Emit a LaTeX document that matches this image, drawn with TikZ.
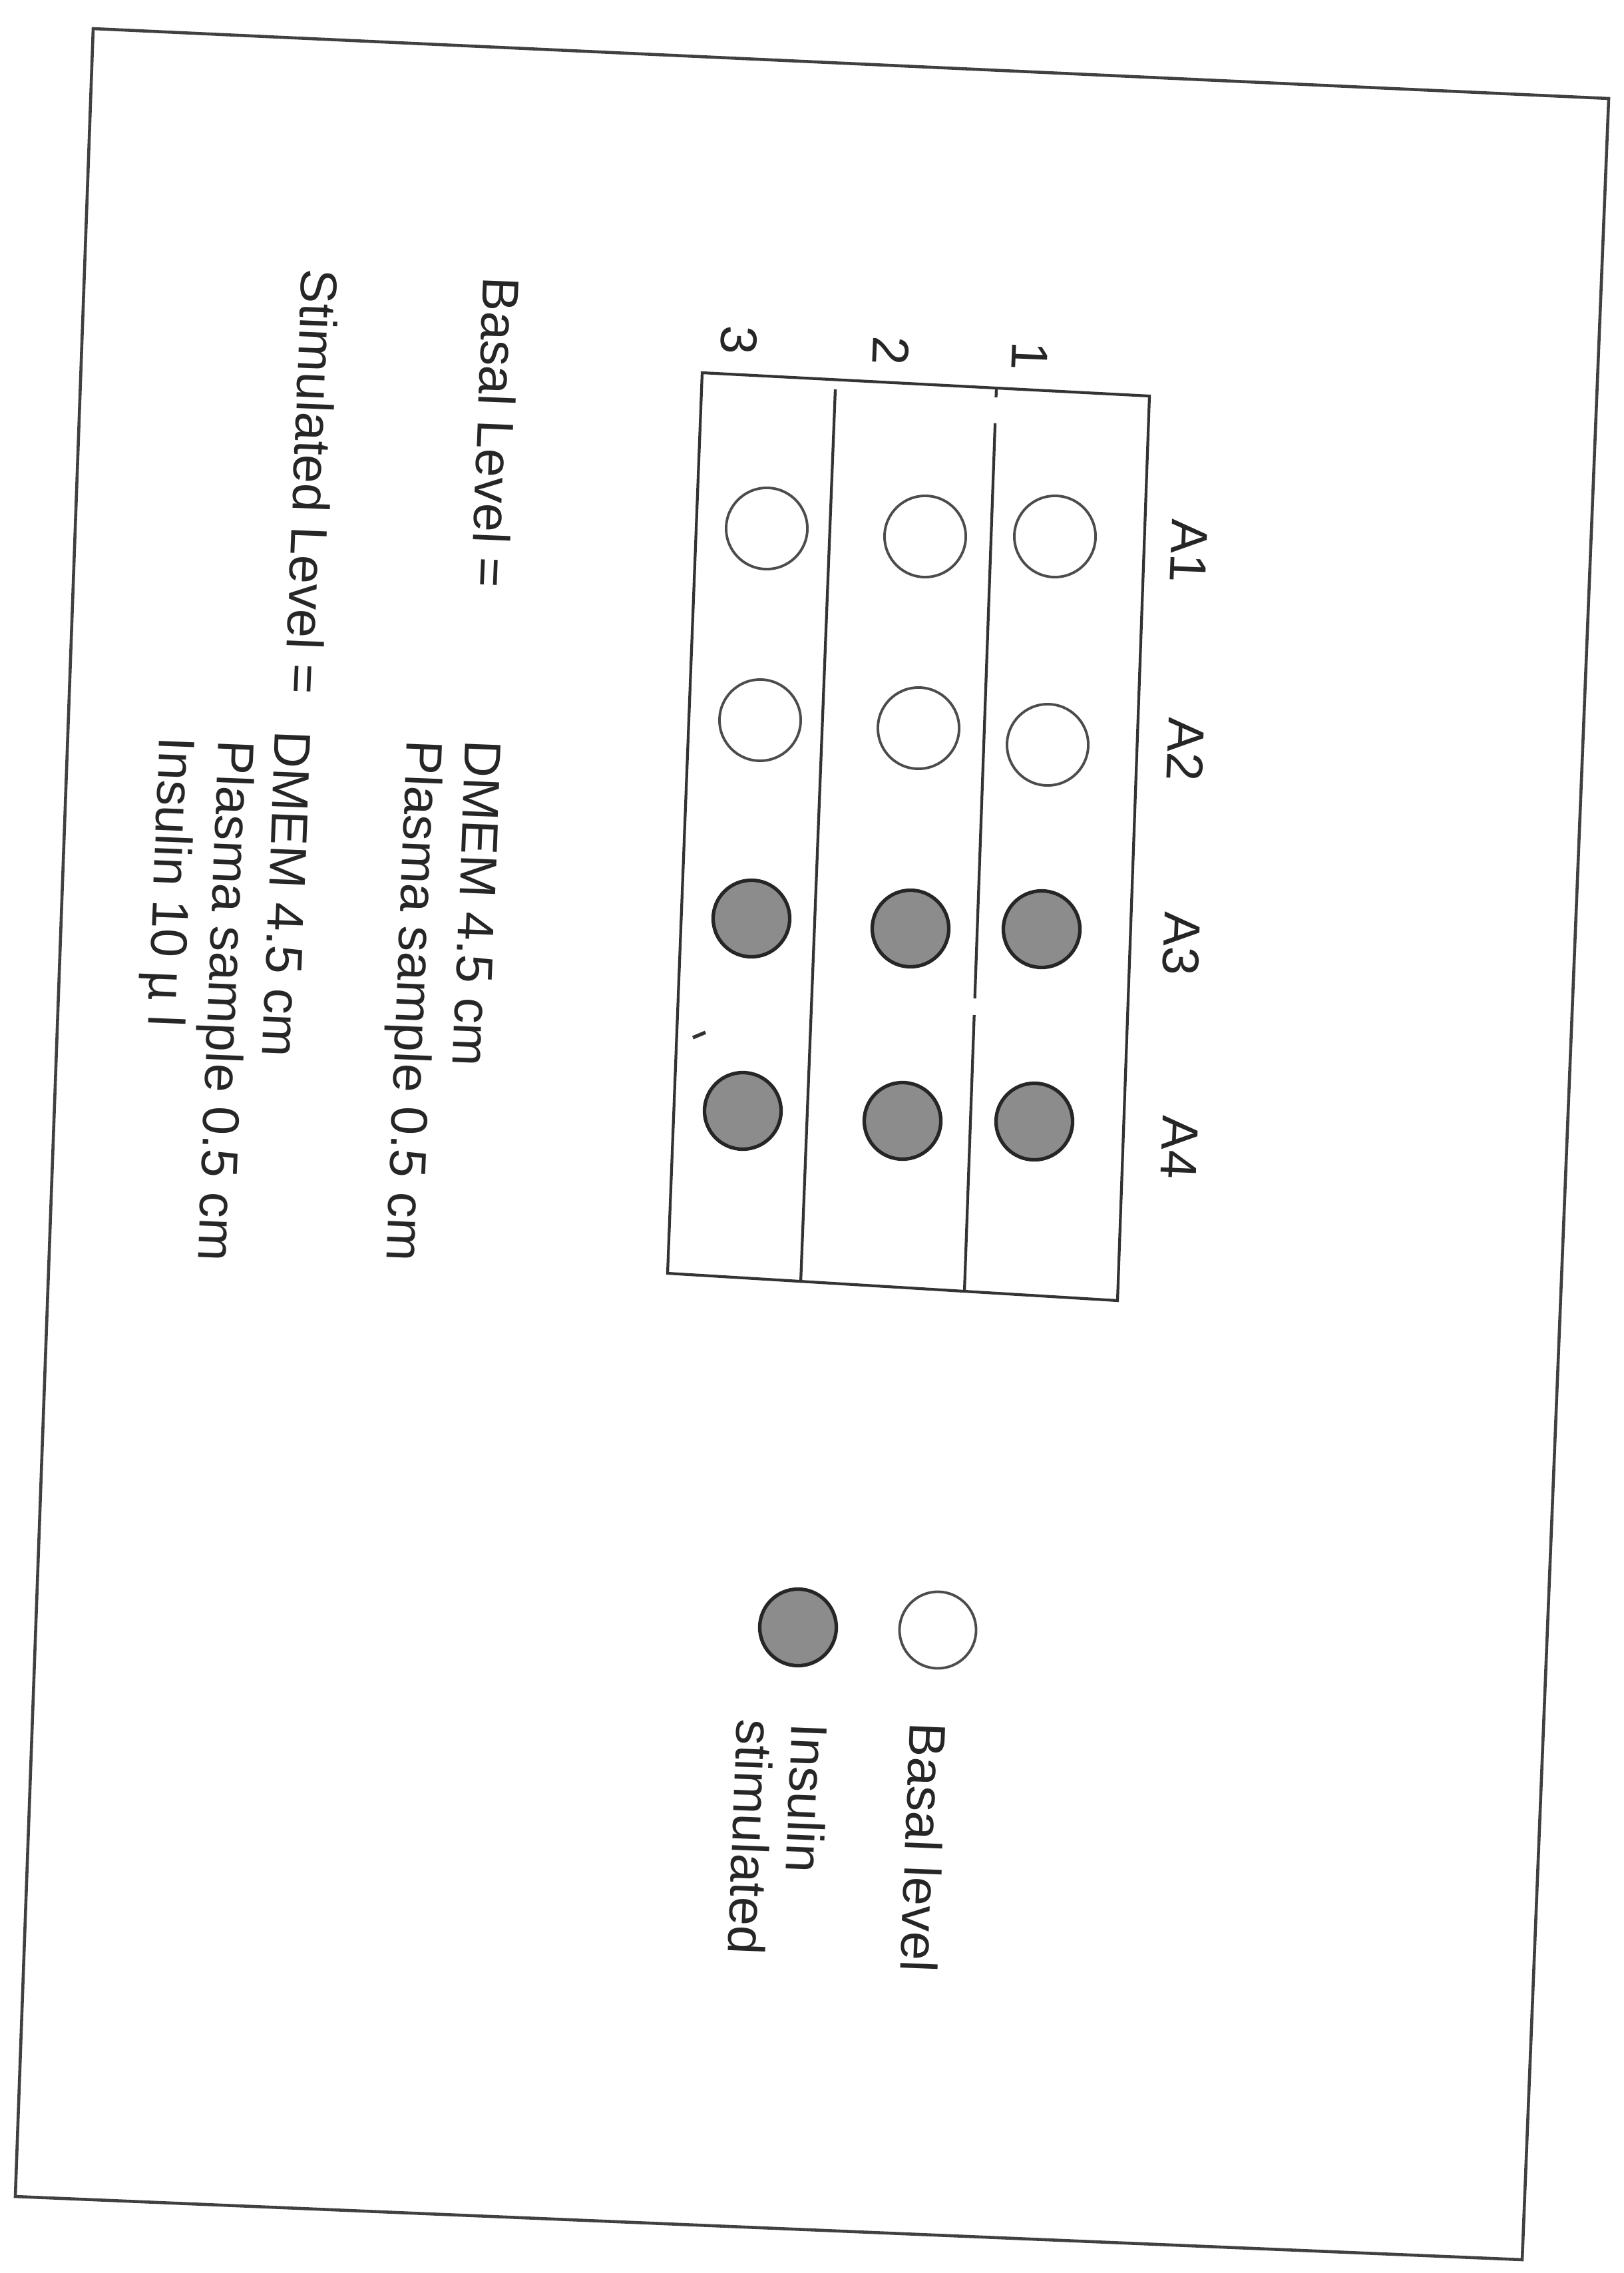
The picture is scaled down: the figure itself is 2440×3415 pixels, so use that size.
\documentclass[tikz,border=0pt]{standalone}
\usepackage{fontspec}
\setmainfont{Liberation Sans}

\begin{document}
\begin{tikzpicture}[x=0.01cm, y=-0.01cm,
  txt/.style={rotate=-92.3, anchor=base west, inner sep=0pt, font=\fontsize{22}{26}\selectfont, text=black!85},
  lbl/.style={rotate=-92.3, inner sep=0pt, font=\fontsize{22}{26}\selectfont, text=black!85},
  well/.style={circle, draw=black!70, line width=1.1pt, minimum size=1.22cm, inner sep=0pt},
  spot/.style={circle, draw=black!85, fill=black!45, line width=1.5pt, minimum size=1.15cm, inner sep=0pt},
  plateline/.style={draw=black!80, line width=1.2pt},
]

% Page
\fill[white] (0,0) rectangle (2440,3415);
\useasboundingbox (0,0) rectangle (2440,3415);
\draw[black!75, line width=1.3pt] (140,43) -- (2417,148) -- (2287,3395) -- (23,3300) -- cycle;

% Plate and strips
\coordinate (ptl) at (1055,560);
\coordinate (ptr) at (1727,595);
\coordinate (pbr) at (1679,1954);
\coordinate (pbl) at (1003,1913);
\draw[plateline] (ptl) -- (ptr) -- (pbr) -- (pbl) -- cycle;
\draw[plateline] (1255,585) -- (1203,1927);
\draw[plateline] (1497,583) -- (1496.5,597);
\draw[plateline] (1495.1,636) -- (1464.6,1500);
\draw[plateline] (1463.7,1525) -- (1449,1940);
\draw[black!80, line width=1.5pt] (1041,1559) -- (1060,1551);

% Strip numbers
\node[lbl] (n1) at (1547,535) {1};
\node[lbl] (n2) at (1339,527) {2};
\node[lbl] (n3) at (1110,511) {3};

% Row labels
\node[lbl] (a1) at (1786,828)  {A1};
\node[lbl] (a2) at (1782,1126) {A2};
\node[lbl] (a3) at (1775,1418) {A3};
\node[lbl] (a4) at (1772,1724) {A4};

% Basal wells
\node[well] (w11) at (1585,806)  {};
\node[well] (w21) at (1390,806)  {};
\node[well] (w31) at (1152,794)  {};
\node[well] (w12) at (1574,1119) {};
\node[well] (w22) at (1380,1094) {};
\node[well] (w32) at (1142,1082) {};

% Stimulated wells
\node[spot] (w13) at (1565,1396) {};
\node[spot] (w23) at (1368,1395) {};
\node[spot] (w33) at (1129,1380) {};
\node[spot] (w14) at (1554,1685) {};
\node[spot] (w24) at (1356,1684) {};
\node[spot] (w34) at (1116,1669) {};

% Legend
\node[well, minimum size=1.15cm] (kbasal) at (1409,2449) {};
\node[spot] (kstim) at (1199,2445) {};
\node[txt] (kbasaltxt) at (1368,2587) {Basal level};
\node[txt] (kinstxt)   at (1190,2588) {Insulin};
\node[txt] (kstimtxt)  at (1108,2582) {stimulated};

% Recipes
\node[txt] (bl) at (727,415)  {Basal Level =};
\node[txt] (bd) at (700,1111) {DMEM 4.5 cm};
\node[txt] (bp) at (612,1111) {Plasma sample 0.5 cm};
\node[txt] (sl) at (454,403)  {Stimulated Level =};
\node[txt] (sd) at (414,1097) {DMEM 4.5 cm};
\node[txt] (sp) at (329,1111) {Plasma sample 0.5 cm};
\node[txt] (si) at (240,1106) {Insulin 10 µ l};

\end{tikzpicture}
\end{document}
